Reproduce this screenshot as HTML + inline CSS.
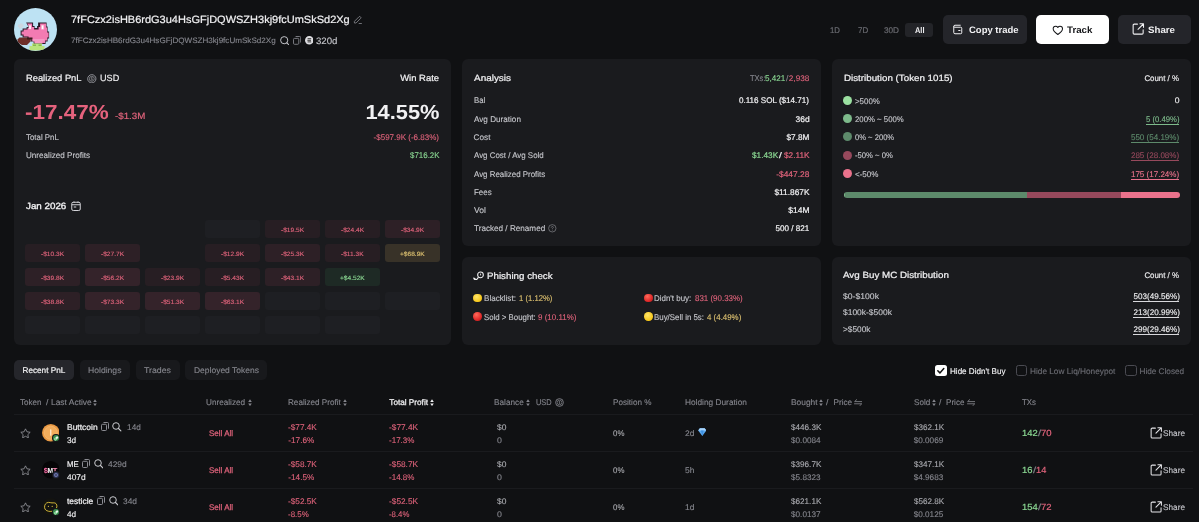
<!DOCTYPE html>
<html><head><meta charset="utf-8">
<style>
*{margin:0;padding:0;box-sizing:border-box}
html,body{width:1199px;height:522px;overflow:hidden;background:#101113;font-family:"Liberation Sans",sans-serif;color:#e9e9ec}
.a{position:absolute;white-space:nowrap;line-height:1;text-rendering:geometricPrecision}
</style></head><body><div style="position:absolute;left:0;top:0;width:1199px;height:522px;will-change:transform">
<div class="a" style="left:14.20px;top:59.20px;width:436.60px;height:286.20px;background:#1a1b1e;border-radius:6px;"></div>
<div class="a" style="left:462.20px;top:59.20px;width:358.80px;height:186.60px;background:#1a1b1e;border-radius:6px;"></div>
<div class="a" style="left:462.20px;top:256.60px;width:358.80px;height:88.80px;background:#1a1b1e;border-radius:6px;"></div>
<div class="a" style="left:832.00px;top:59.20px;width:358.50px;height:186.60px;background:#1a1b1e;border-radius:6px;"></div>
<div class="a" style="left:832.00px;top:256.60px;width:358.50px;height:88.80px;background:#1a1b1e;border-radius:6px;"></div>
<svg class="a" style="left:14px;top:8.2px" width="43" height="43" viewBox="0 0 43 43">
<defs><clipPath id="av"><circle cx="21.5" cy="21.5" r="21.5"/></clipPath></defs>
<g clip-path="url(#av)">
<rect width="43" height="43" fill="#bde2f3"/>
<path d="M4 16.500h2v-1h2.500v1h1v2.500h-1.500v1.500h-3v-1.500h-1z" fill="#cfd3dc" opacity=".85"/>
<g transform="translate(-1.4,0.6)"><path d="M13.500 14h7v3.500h1.500v2h2.500v-2h1v-3.500h8.500v4h1v5h1.500v7h-1.500v3h-2v2.500h-12v-2.500h-3v-2.500h-3v-1.500h-5v-2h-2v-5h2v-2h4v-1.500h2z" fill="#2b1826"/>
<path d="M14.500 15h5v3.500h2v2.500h4.500v-2.500h1.500v-3.500h6v4h1v5h1.500v5h-1.500v3h-2v2.500h-10.500v-2.500h-3v-2.500h-3v-1.500h-5v-2h-2v-3h2v-2h4v-1.500h2.500z" fill="#f37bb2"/>
<path d="M16 16.500h2.500v4h-2.500z M28.500 16.500h3v4.500h-3z" fill="#fbb4d5"/>
<rect x="16.800" y="17" width="1.300" height="3.500" fill="#fff"/><rect x="29.300" y="17" width="1.300" height="3.500" fill="#fff"/>
<path d="M20 30.500h12v2.500h-2v2h-8v-2h-2z" fill="#f59ac4"/></g>
<path d="M3.500 31.500l2-2h8.500l2.500 1.500v2.500l-3.500 3.500h-5l-4.500-2.500z" fill="#6e2f2a"/>
<path d="M13 29.500h5.500v2h-5.500z" fill="#3b1a1c"/>
<path d="M15.500 42.500v-4.500h2.500v-2.500h10v2.500h2.500v4.500z" fill="#b9e37c"/>
<path d="M19 36.500h3v1.500h-3z M24.500 36.500h3v1.500h-3z" fill="#86b84f"/>
</g></svg>
<div class="a" style="top:14px;font-size:10.5px;line-height:12px;color:#f1f1f3;-webkit-text-stroke:0.2px #f1f1f3;left:71.30px;transform-origin:0 50%;transform:scaleX(1.0475);">7fFCzx2isHB6rdG3u4HsGFjDQWSZH3kj9fcUmSkSd2Xg</div>
<div class="a" style="top:36px;font-size:7.8px;line-height:9px;color:#85868d;-webkit-text-stroke:0.12px #85868d;left:71.30px;transform-origin:0 50%;transform:scaleX(1.0357);">7fFCzx2isHB6rdG3u4HsGFjDQWSZH3kj9fcUmSkSd2Xg</div>
<div class="a" style="top:36px;font-size:9.2px;line-height:10px;color:#c6c7cc;-webkit-text-stroke:0.12px #c6c7cc;left:316.40px;transform-origin:0 50%;transform:scaleX(1.0505);">320d</div>
<div class="a" style="top:26px;font-size:8.2px;line-height:9px;color:#696a70;-webkit-text-stroke:0.2px #696a70;left:829.80px;transform-origin:0 50%;transform:scaleX(0.9540);">1D</div>
<div class="a" style="top:26px;font-size:8.2px;line-height:9px;color:#696a70;-webkit-text-stroke:0.2px #696a70;left:858.30px;transform-origin:0 50%;transform:scaleX(0.9731);">7D</div>
<div class="a" style="top:26px;font-size:8.2px;line-height:9px;color:#696a70;-webkit-text-stroke:0.2px #696a70;left:884.00px;transform-origin:0 50%;">30D</div>
<div class="a" style="left:905.20px;top:22.80px;width:27.70px;height:13.90px;background:#232428;border-radius:3px;"></div>
<div class="a" style="top:25px;font-size:8.3px;line-height:10px;color:#f1f1f3;font-weight:700;left:915.00px;transform-origin:0 50%;transform:scaleX(0.8957);">All</div>
<div class="a" style="left:943.30px;top:15.30px;width:83.70px;height:28.40px;background:#24252a;border-radius:5px;"></div>
<div class="a" style="top:24px;font-size:9.4px;line-height:11px;color:#f1f1f3;font-weight:700;left:969.00px;transform-origin:0 50%;transform:scaleX(1.0123);">Copy trade</div>
<div class="a" style="left:1036.00px;top:15.30px;width:73.00px;height:28.40px;background:#ffffff;border-radius:5px;"></div>
<div class="a" style="top:24px;font-size:9.4px;line-height:11px;color:#141518;font-weight:700;left:1067.00px;transform-origin:0 50%;transform:scaleX(1.0381);">Track</div>
<div class="a" style="left:1118.00px;top:15.30px;width:72.70px;height:28.40px;background:#24252a;border-radius:5px;"></div>
<div class="a" style="top:24px;font-size:9.4px;line-height:11px;color:#f1f1f3;font-weight:700;left:1148.00px;transform-origin:0 50%;transform:scaleX(1.0335);">Share</div>
<div class="a" style="top:73px;font-size:9.0px;line-height:10px;color:#f1f1f3;-webkit-text-stroke:0.22px #f1f1f3;left:25.60px;transform-origin:0 50%;transform:scaleX(1.0367);">Realized PnL</div>
<div class="a" style="top:73px;font-size:9.0px;line-height:10px;color:#f1f1f3;-webkit-text-stroke:0.15px #f1f1f3;left:99.50px;transform-origin:0 50%;transform:scaleX(1.0104);">USD</div>
<div class="a" style="top:73px;font-size:9.0px;line-height:10px;color:#f1f1f3;-webkit-text-stroke:0.22px #f1f1f3;right:759.90px;transform-origin:100% 50%;transform:scaleX(1.0483);">Win Rate</div>
<div class="a" style="top:101px;font-size:20.5px;line-height:23px;color:#e5627d;font-weight:700;left:25.00px;transform-origin:0 50%;transform:scaleX(1.0962);">-17.47%</div>
<div class="a" style="top:111px;font-size:9.0px;line-height:10px;color:#df637b;-webkit-text-stroke:0.2px #df637b;left:115.20px;transform-origin:0 50%;transform:scaleX(1.0817);">-$1.3M</div>
<div class="a" style="top:101px;font-size:20.5px;line-height:23px;color:#f1f1f3;font-weight:700;right:759.90px;transform-origin:100% 50%;transform:scaleX(1.0658);">14.55%</div>
<div class="a" style="top:133px;font-size:8.2px;line-height:9px;color:#c6c7cc;-webkit-text-stroke:0.12px #c6c7cc;left:25.60px;transform-origin:0 50%;transform:scaleX(0.9623);">Total PnL</div>
<div class="a" style="top:151px;font-size:8.2px;line-height:9px;color:#c6c7cc;-webkit-text-stroke:0.12px #c6c7cc;left:25.60px;transform-origin:0 50%;transform:scaleX(0.9905);">Unrealized Profits</div>
<div class="a" style="top:133px;font-size:8.2px;line-height:9px;color:#df637b;-webkit-text-stroke:0.12px #df637b;right:759.90px;transform-origin:100% 50%;transform:scaleX(0.9761);">-$597.9K (-6.83%)</div>
<div class="a" style="top:151px;font-size:8.2px;line-height:9px;color:#8ad792;-webkit-text-stroke:0.12px #8ad792;right:759.90px;transform-origin:100% 50%;transform:scaleX(0.9656);">$716.2K</div>
<div class="a" style="top:201px;font-size:9.0px;line-height:10px;color:#f1f1f3;-webkit-text-stroke:0.32px #f1f1f3;left:25.70px;transform-origin:0 50%;transform:scaleX(1.0882);">Jan 2026</div>
<div class="a" style="left:205.00px;top:220.00px;width:54.50px;height:18.00px;background:#1e1f23;border-radius:3px;"></div>
<div class="a" style="left:265.00px;top:220.00px;width:54.50px;height:18.00px;background:#271e23;border-radius:3px;"></div>
<div class="a" style="top:227px;font-size:6.2px;line-height:7px;color:#df637b;-webkit-text-stroke:0.12px #df637b;left:280.69px;transform-origin:0 50%;transform:scaleX(1.0645);">-$19.5K</div>
<div class="a" style="left:325.00px;top:220.00px;width:54.50px;height:18.00px;background:#271e23;border-radius:3px;"></div>
<div class="a" style="top:227px;font-size:6.2px;line-height:7px;color:#df637b;-webkit-text-stroke:0.12px #df637b;left:340.69px;transform-origin:0 50%;transform:scaleX(1.0645);">-$24.4K</div>
<div class="a" style="left:385.00px;top:220.00px;width:54.50px;height:18.00px;background:#2d2026;border-radius:3px;"></div>
<div class="a" style="top:227px;font-size:6.2px;line-height:7px;color:#df637b;-webkit-text-stroke:0.12px #df637b;left:400.69px;transform-origin:0 50%;transform:scaleX(1.0645);">-$34.9K</div>
<div class="a" style="left:25.00px;top:244.00px;width:54.50px;height:18.00px;background:#271e23;border-radius:3px;"></div>
<div class="a" style="top:251px;font-size:6.2px;line-height:7px;color:#df637b;-webkit-text-stroke:0.12px #df637b;left:40.69px;transform-origin:0 50%;transform:scaleX(1.0645);">-$10.3K</div>
<div class="a" style="left:85.00px;top:244.00px;width:54.50px;height:18.00px;background:#2d2026;border-radius:3px;"></div>
<div class="a" style="top:251px;font-size:6.2px;line-height:7px;color:#df637b;-webkit-text-stroke:0.12px #df637b;left:100.69px;transform-origin:0 50%;transform:scaleX(1.0645);">-$27.7K</div>
<div class="a" style="left:205.00px;top:244.00px;width:54.50px;height:18.00px;background:#271e23;border-radius:3px;"></div>
<div class="a" style="top:251px;font-size:6.2px;line-height:7px;color:#df637b;-webkit-text-stroke:0.12px #df637b;left:220.69px;transform-origin:0 50%;transform:scaleX(1.0645);">-$12.9K</div>
<div class="a" style="left:265.00px;top:244.00px;width:54.50px;height:18.00px;background:#2d2026;border-radius:3px;"></div>
<div class="a" style="top:251px;font-size:6.2px;line-height:7px;color:#df637b;-webkit-text-stroke:0.12px #df637b;left:280.69px;transform-origin:0 50%;transform:scaleX(1.0645);">-$25.3K</div>
<div class="a" style="left:325.00px;top:244.00px;width:54.50px;height:18.00px;background:#271e23;border-radius:3px;"></div>
<div class="a" style="top:251px;font-size:6.2px;line-height:7px;color:#df637b;-webkit-text-stroke:0.12px #df637b;left:340.94px;transform-origin:0 50%;transform:scaleX(1.0645);">-$11.3K</div>
<div class="a" style="left:385.00px;top:244.00px;width:54.50px;height:18.00px;background:#383228;border-radius:3px;"></div>
<div class="a" style="top:251px;font-size:6.2px;line-height:7px;color:#dcc070;-webkit-text-stroke:0.12px #dcc070;left:399.86px;transform-origin:0 50%;transform:scaleX(1.0645);">+$68.9K</div>
<div class="a" style="left:25.00px;top:268.00px;width:54.50px;height:18.00px;background:#2d2026;border-radius:3px;"></div>
<div class="a" style="top:275px;font-size:6.2px;line-height:7px;color:#df637b;-webkit-text-stroke:0.12px #df637b;left:40.69px;transform-origin:0 50%;transform:scaleX(1.0645);">-$39.8K</div>
<div class="a" style="left:85.00px;top:268.00px;width:54.50px;height:18.00px;background:#34232a;border-radius:3px;"></div>
<div class="a" style="top:275px;font-size:6.2px;line-height:7px;color:#df637b;-webkit-text-stroke:0.12px #df637b;left:100.69px;transform-origin:0 50%;transform:scaleX(1.0645);">-$56.2K</div>
<div class="a" style="left:145.00px;top:268.00px;width:54.50px;height:18.00px;background:#271e23;border-radius:3px;"></div>
<div class="a" style="top:275px;font-size:6.2px;line-height:7px;color:#df637b;-webkit-text-stroke:0.12px #df637b;left:160.69px;transform-origin:0 50%;transform:scaleX(1.0645);">-$23.9K</div>
<div class="a" style="left:205.00px;top:268.00px;width:54.50px;height:18.00px;background:#271e23;border-radius:3px;"></div>
<div class="a" style="top:275px;font-size:6.2px;line-height:7px;color:#df637b;-webkit-text-stroke:0.12px #df637b;left:220.69px;transform-origin:0 50%;transform:scaleX(1.0645);">-$5.43K</div>
<div class="a" style="left:265.00px;top:268.00px;width:54.50px;height:18.00px;background:#2d2026;border-radius:3px;"></div>
<div class="a" style="top:275px;font-size:6.2px;line-height:7px;color:#df637b;-webkit-text-stroke:0.12px #df637b;left:280.69px;transform-origin:0 50%;transform:scaleX(1.0645);">-$43.1K</div>
<div class="a" style="left:325.00px;top:268.00px;width:54.50px;height:18.00px;background:#1e2a25;border-radius:3px;"></div>
<div class="a" style="top:275px;font-size:6.2px;line-height:7px;color:#8ad792;-webkit-text-stroke:0.12px #8ad792;left:339.86px;transform-origin:0 50%;transform:scaleX(1.0645);">+$4.52K</div>
<div class="a" style="left:25.00px;top:292.00px;width:54.50px;height:18.00px;background:#2d2026;border-radius:3px;"></div>
<div class="a" style="top:299px;font-size:6.2px;line-height:7px;color:#df637b;-webkit-text-stroke:0.12px #df637b;left:40.69px;transform-origin:0 50%;transform:scaleX(1.0645);">-$38.8K</div>
<div class="a" style="left:85.00px;top:292.00px;width:54.50px;height:18.00px;background:#34232a;border-radius:3px;"></div>
<div class="a" style="top:299px;font-size:6.2px;line-height:7px;color:#df637b;-webkit-text-stroke:0.12px #df637b;left:100.69px;transform-origin:0 50%;transform:scaleX(1.0645);">-$73.3K</div>
<div class="a" style="left:145.00px;top:292.00px;width:54.50px;height:18.00px;background:#34232a;border-radius:3px;"></div>
<div class="a" style="top:299px;font-size:6.2px;line-height:7px;color:#df637b;-webkit-text-stroke:0.12px #df637b;left:160.69px;transform-origin:0 50%;transform:scaleX(1.0645);">-$51.3K</div>
<div class="a" style="left:205.00px;top:292.00px;width:54.50px;height:18.00px;background:#34232a;border-radius:3px;"></div>
<div class="a" style="top:299px;font-size:6.2px;line-height:7px;color:#df637b;-webkit-text-stroke:0.12px #df637b;left:220.69px;transform-origin:0 50%;transform:scaleX(1.0645);">-$63.1K</div>
<div class="a" style="left:265.00px;top:292.00px;width:54.50px;height:18.00px;background:#1e1f23;border-radius:3px;"></div>
<div class="a" style="left:325.00px;top:292.00px;width:54.50px;height:18.00px;background:#1e1f23;border-radius:3px;"></div>
<div class="a" style="left:385.00px;top:292.00px;width:54.50px;height:18.00px;background:#1e1f23;border-radius:3px;"></div>
<div class="a" style="left:25.00px;top:316.00px;width:54.50px;height:18.00px;background:#1e1f23;border-radius:3px;"></div>
<div class="a" style="left:85.00px;top:316.00px;width:54.50px;height:18.00px;background:#1e1f23;border-radius:3px;"></div>
<div class="a" style="left:145.00px;top:316.00px;width:54.50px;height:18.00px;background:#1e1f23;border-radius:3px;"></div>
<div class="a" style="left:205.00px;top:316.00px;width:54.50px;height:18.00px;background:#1e1f23;border-radius:3px;"></div>
<div class="a" style="left:265.00px;top:316.00px;width:54.50px;height:18.00px;background:#1e1f23;border-radius:3px;"></div>
<div class="a" style="left:325.00px;top:316.00px;width:54.50px;height:18.00px;background:#1e1f23;border-radius:3px;"></div>
<div class="a" style="top:73px;font-size:9.0px;line-height:10px;color:#f1f1f3;-webkit-text-stroke:0.22px #f1f1f3;left:473.60px;transform-origin:0 50%;transform:scaleX(1.1041);">Analysis</div>
<div class="a" style="top:96px;font-size:8.2px;line-height:9px;color:#c6c7cc;-webkit-text-stroke:0.12px #c6c7cc;left:473.60px;transform-origin:0 50%;transform:scaleX(0.9535);">Bal</div>
<div class="a" style="top:115px;font-size:8.2px;line-height:9px;color:#c6c7cc;-webkit-text-stroke:0.12px #c6c7cc;left:473.60px;transform-origin:0 50%;transform:scaleX(0.9946);">Avg Duration</div>
<div class="a" style="top:133px;font-size:8.2px;line-height:9px;color:#c6c7cc;-webkit-text-stroke:0.12px #c6c7cc;left:473.60px;transform-origin:0 50%;">Cost</div>
<div class="a" style="top:151px;font-size:8.2px;line-height:9px;color:#c6c7cc;-webkit-text-stroke:0.12px #c6c7cc;left:473.60px;transform-origin:0 50%;transform:scaleX(0.9671);">Avg Cost / Avg Sold</div>
<div class="a" style="top:170px;font-size:8.2px;line-height:9px;color:#c6c7cc;-webkit-text-stroke:0.12px #c6c7cc;left:473.60px;transform-origin:0 50%;transform:scaleX(0.9676);">Avg Realized Profits</div>
<div class="a" style="top:188px;font-size:8.2px;line-height:9px;color:#c6c7cc;-webkit-text-stroke:0.12px #c6c7cc;left:473.60px;transform-origin:0 50%;transform:scaleX(0.9709);">Fees</div>
<div class="a" style="top:206px;font-size:8.2px;line-height:9px;color:#c6c7cc;-webkit-text-stroke:0.12px #c6c7cc;left:473.60px;transform-origin:0 50%;transform:scaleX(1.0352);">Vol</div>
<div class="a" style="top:224px;font-size:8.2px;line-height:9px;color:#c6c7cc;-webkit-text-stroke:0.12px #c6c7cc;left:473.60px;transform-origin:0 50%;transform:scaleX(0.9943);">Tracked / Renamed</div>
<div class="a" style="top:74px;font-size:8.2px;line-height:9px;color:#85868d;-webkit-text-stroke:0.12px #85868d;left:749.70px;transform-origin:0 50%;transform:scaleX(0.9195);">TXs:</div>
<div class="a" style="top:74px;font-size:8.2px;line-height:9px;color:#8ad792;-webkit-text-stroke:0.12px #8ad792;left:765.40px;transform-origin:0 50%;transform:scaleX(0.9893);">5,421</div>
<div class="a" style="top:74px;font-size:8.2px;line-height:9px;color:#85868d;-webkit-text-stroke:0.12px #85868d;left:786.20px;transform-origin:0 50%;transform:scaleX(1.0535);">/</div>
<div class="a" style="top:74px;font-size:8.2px;line-height:9px;color:#df637b;-webkit-text-stroke:0.12px #df637b;left:788.80px;transform-origin:0 50%;">2,938</div>
<div class="a" style="top:96px;font-size:8.2px;line-height:9px;color:#f1f1f3;-webkit-text-stroke:0.2px #f1f1f3;right:389.70px;transform-origin:100% 50%;transform:scaleX(0.9872);">0.116 SOL ($14.71)</div>
<div class="a" style="top:115px;font-size:8.2px;line-height:9px;color:#f1f1f3;-webkit-text-stroke:0.2px #f1f1f3;right:389.70px;transform-origin:100% 50%;transform:scaleX(1.0306);">36d</div>
<div class="a" style="top:133px;font-size:8.2px;line-height:9px;color:#f1f1f3;-webkit-text-stroke:0.2px #f1f1f3;right:389.70px;transform-origin:100% 50%;">$7.8M</div>
<div class="a" style="top:151px;font-size:8.2px;line-height:9px;color:#8ad792;-webkit-text-stroke:0.2px #8ad792;left:751.70px;transform-origin:0 50%;transform:scaleX(1.0081);">$1.43K</div>
<div class="a" style="top:151px;font-size:8.2px;line-height:9px;color:#f1f1f3;-webkit-text-stroke:0.2px #f1f1f3;left:779.40px;transform-origin:0 50%;transform:scaleX(1.2290);">/</div>
<div class="a" style="top:151px;font-size:8.2px;line-height:9px;color:#df637b;-webkit-text-stroke:0.2px #df637b;left:783.70px;transform-origin:0 50%;transform:scaleX(1.0086);">$2.11K</div>
<div class="a" style="top:170px;font-size:8.2px;line-height:9px;color:#df637b;-webkit-text-stroke:0.2px #df637b;right:389.70px;transform-origin:100% 50%;transform:scaleX(1.0225);">-$447.28</div>
<div class="a" style="top:188px;font-size:8.2px;line-height:9px;color:#f1f1f3;-webkit-text-stroke:0.2px #f1f1f3;right:389.70px;transform-origin:100% 50%;transform:scaleX(1.0144);">$11.867K</div>
<div class="a" style="top:206px;font-size:8.2px;line-height:9px;color:#f1f1f3;-webkit-text-stroke:0.2px #f1f1f3;right:389.70px;transform-origin:100% 50%;transform:scaleX(1.0335);">$14M</div>
<div class="a" style="top:224px;font-size:8.2px;line-height:9px;color:#f1f1f3;-webkit-text-stroke:0.2px #f1f1f3;right:389.70px;transform-origin:100% 50%;transform:scaleX(0.9855);">500 / 821</div>
<div class="a" style="top:271px;font-size:9.2px;line-height:10px;color:#f1f1f3;-webkit-text-stroke:0.22px #f1f1f3;left:486.50px;transform-origin:0 50%;transform:scaleX(1.0617);">Phishing check</div>
<div class="a" style="top:293px;font-size:8.3px;line-height:10px;color:#c6c7cc;-webkit-text-stroke:0.12px #c6c7cc;left:483.80px;transform-origin:0 50%;transform:scaleX(0.9742);">Blacklist:</div>
<div class="a" style="top:293px;font-size:8.3px;line-height:10px;color:#dcc070;-webkit-text-stroke:0.12px #dcc070;left:519.00px;transform-origin:0 50%;transform:scaleX(0.9282);">1 (1.12%)</div>
<div class="a" style="top:312px;font-size:8.3px;line-height:10px;color:#c6c7cc;-webkit-text-stroke:0.12px #c6c7cc;left:483.80px;transform-origin:0 50%;transform:scaleX(0.9436);">Sold &gt; Bought:</div>
<div class="a" style="top:312px;font-size:8.3px;line-height:10px;color:#df637b;-webkit-text-stroke:0.12px #df637b;left:538.10px;transform-origin:0 50%;transform:scaleX(0.9629);">9 (10.11%)</div>
<div class="a" style="top:293px;font-size:8.3px;line-height:10px;color:#c6c7cc;-webkit-text-stroke:0.12px #c6c7cc;left:654.00px;transform-origin:0 50%;transform:scaleX(0.9575);">Didn't buy:</div>
<div class="a" style="top:293px;font-size:8.3px;line-height:10px;color:#df637b;-webkit-text-stroke:0.12px #df637b;left:695.00px;transform-origin:0 50%;transform:scaleX(0.9572);">831 (90.33%)</div>
<div class="a" style="top:312px;font-size:8.3px;line-height:10px;color:#c6c7cc;-webkit-text-stroke:0.12px #c6c7cc;left:654.00px;transform-origin:0 50%;transform:scaleX(0.9507);">Buy/Sell in 5s:</div>
<div class="a" style="top:312px;font-size:8.3px;line-height:10px;color:#dcc070;-webkit-text-stroke:0.12px #dcc070;left:706.70px;transform-origin:0 50%;transform:scaleX(0.9532);">4 (4.49%)</div>
<div class="a" style="left:473.3px;top:294.0px;width:8.4px;height:8.4px;border-radius:50%;background:radial-gradient(circle at 40% 35%,#ffe56a,#f5c518 70%,#d9a400)"></div>
<div class="a" style="left:473.3px;top:312.2px;width:8.4px;height:8.4px;border-radius:50%;background:radial-gradient(circle at 38% 30%,#ff6a5a,#e02a2a 60%,#a81414)"></div>
<div class="a" style="left:644.3px;top:294.0px;width:8.4px;height:8.4px;border-radius:50%;background:radial-gradient(circle at 38% 30%,#ff6a5a,#e02a2a 60%,#a81414)"></div>
<div class="a" style="left:644.3px;top:312.2px;width:8.4px;height:8.4px;border-radius:50%;background:radial-gradient(circle at 40% 35%,#ffe56a,#f5c518 70%,#d9a400)"></div>
<div class="a" style="top:73px;font-size:9.0px;line-height:10px;color:#f1f1f3;-webkit-text-stroke:0.22px #f1f1f3;left:843.50px;transform-origin:0 50%;transform:scaleX(1.0854);">Distribution (Token 1015)</div>
<div class="a" style="top:74px;font-size:8.2px;line-height:9px;color:#f1f1f3;-webkit-text-stroke:0.15px #f1f1f3;right:19.60px;transform-origin:100% 50%;transform:scaleX(0.9609);">Count / %</div>
<div class="a" style="left:842.8px;top:95.80px;width:9px;height:9px;border-radius:50%;background:#9be0a1"></div>
<div class="a" style="top:97px;font-size:8.2px;line-height:9px;color:#c6c7cc;-webkit-text-stroke:0.12px #c6c7cc;left:855.00px;transform-origin:0 50%;transform:scaleX(0.9666);">&gt;500%</div>
<div class="a" style="top:96px;font-size:8.2px;line-height:9px;color:#f1f1f3;-webkit-text-stroke:0.12px #f1f1f3;right:19.60px;transform-origin:100% 50%;transform:scaleX(1.0525);">0</div>
<div class="a" style="left:842.8px;top:114.10px;width:9px;height:9px;border-radius:50%;background:#7dba8b"></div>
<div class="a" style="top:115px;font-size:8.2px;line-height:9px;color:#c6c7cc;-webkit-text-stroke:0.12px #c6c7cc;left:855.00px;transform-origin:0 50%;transform:scaleX(0.9515);">200% ~ 500%</div>
<div class="a" style="top:115px;font-size:8.2px;line-height:9px;color:#7dba8b;-webkit-text-stroke:0.12px #7dba8b;right:19.60px;transform-origin:100% 50%;transform:scaleX(0.9423);">5 (0.49%)</div>
<div class="a" style="left:1145.90px;top:123.60px;width:33.50px;height:0.80px;background:#7dba8b;border-radius:0px;"></div>
<div class="a" style="left:842.8px;top:132.40px;width:9px;height:9px;border-radius:50%;background:#5d8a6b"></div>
<div class="a" style="top:133px;font-size:8.2px;line-height:9px;color:#c6c7cc;-webkit-text-stroke:0.12px #c6c7cc;left:855.00px;transform-origin:0 50%;transform:scaleX(0.9296);">0% ~ 200%</div>
<div class="a" style="top:133px;font-size:8.2px;line-height:9px;color:#5d8a6b;-webkit-text-stroke:0.12px #5d8a6b;right:19.60px;transform-origin:100% 50%;transform:scaleX(0.9811);">550 (54.19%)</div>
<div class="a" style="left:1131.10px;top:141.90px;width:48.30px;height:0.80px;background:#5d8a6b;border-radius:0px;"></div>
<div class="a" style="left:842.8px;top:150.70px;width:9px;height:9px;border-radius:50%;background:#96495c"></div>
<div class="a" style="top:151px;font-size:8.2px;line-height:9px;color:#c6c7cc;-webkit-text-stroke:0.12px #c6c7cc;left:855.00px;transform-origin:0 50%;transform:scaleX(0.9395);">-50% ~ 0%</div>
<div class="a" style="top:151px;font-size:8.2px;line-height:9px;color:#96495c;-webkit-text-stroke:0.12px #96495c;right:19.60px;transform-origin:100% 50%;transform:scaleX(0.9811);">285 (28.08%)</div>
<div class="a" style="left:1131.10px;top:160.20px;width:48.30px;height:0.80px;background:#96495c;border-radius:0px;"></div>
<div class="a" style="left:842.8px;top:169.00px;width:9px;height:9px;border-radius:50%;background:#ea728c"></div>
<div class="a" style="top:170px;font-size:8.2px;line-height:9px;color:#c6c7cc;-webkit-text-stroke:0.12px #c6c7cc;left:855.00px;transform-origin:0 50%;transform:scaleX(0.9820);">&lt;-50%</div>
<div class="a" style="top:170px;font-size:8.2px;line-height:9px;color:#ea728c;-webkit-text-stroke:0.12px #ea728c;right:19.60px;transform-origin:100% 50%;transform:scaleX(0.9811);">175 (17.24%)</div>
<div class="a" style="left:1131.10px;top:178.50px;width:48.30px;height:0.80px;background:#ea728c;border-radius:0px;"></div>
<div class="a" style="left:843.5px;top:192px;width:336px;height:5.9px;border-radius:3px;overflow:hidden;display:flex"><div style="width:1.6px;background:#7dba8b"></div><div style="width:182.1px;background:#5d8a6b"></div><div style="width:94.3px;background:#96495c"></div><div style="flex:1;background:#ea728c"></div></div>
<div class="a" style="top:270px;font-size:9.0px;line-height:10px;color:#f1f1f3;-webkit-text-stroke:0.22px #f1f1f3;left:843.10px;transform-origin:0 50%;transform:scaleX(1.0876);">Avg Buy MC Distribution</div>
<div class="a" style="top:271px;font-size:8.2px;line-height:9px;color:#f1f1f3;-webkit-text-stroke:0.15px #f1f1f3;right:19.60px;transform-origin:100% 50%;transform:scaleX(0.9609);">Count / %</div>
<div class="a" style="top:292px;font-size:8.2px;line-height:9px;color:#c6c7cc;-webkit-text-stroke:0.12px #c6c7cc;left:843.10px;transform-origin:0 50%;transform:scaleX(1.0528);">$0-$100k</div>
<div class="a" style="top:292px;font-size:8.2px;line-height:9px;color:#f1f1f3;-webkit-text-stroke:0.12px #f1f1f3;right:19.60px;transform-origin:100% 50%;transform:scaleX(0.9903);">503(49.56%)</div>
<div class="a" style="left:1132.90px;top:300.60px;width:46.50px;height:0.80px;background:#d8d8dc;border-radius:0px;"></div>
<div class="a" style="top:308px;font-size:8.2px;line-height:9px;color:#c6c7cc;-webkit-text-stroke:0.12px #c6c7cc;left:843.10px;transform-origin:0 50%;transform:scaleX(1.0334);">$100k-$500k</div>
<div class="a" style="top:308px;font-size:8.2px;line-height:9px;color:#f1f1f3;-webkit-text-stroke:0.12px #f1f1f3;right:19.60px;transform-origin:100% 50%;transform:scaleX(0.9903);">213(20.99%)</div>
<div class="a" style="left:1132.90px;top:317.30px;width:46.50px;height:0.80px;background:#d8d8dc;border-radius:0px;"></div>
<div class="a" style="top:325px;font-size:8.2px;line-height:9px;color:#c6c7cc;-webkit-text-stroke:0.12px #c6c7cc;left:843.10px;transform-origin:0 50%;transform:scaleX(1.0136);">&gt;$500k</div>
<div class="a" style="top:325px;font-size:8.2px;line-height:9px;color:#f1f1f3;-webkit-text-stroke:0.12px #f1f1f3;right:19.60px;transform-origin:100% 50%;transform:scaleX(0.9903);">299(29.46%)</div>
<div class="a" style="left:1132.90px;top:333.90px;width:46.50px;height:0.80px;background:#d8d8dc;border-radius:0px;"></div>
<div class="a" style="left:14.00px;top:360.00px;width:60.00px;height:20.00px;background:#25262b;border-radius:5px;"></div>
<div class="a" style="top:366px;font-size:8.2px;line-height:9px;color:#f1f1f3;-webkit-text-stroke:0.2px #f1f1f3;left:22.50px;transform-origin:0 50%;">Recent PnL</div>
<div class="a" style="left:80.00px;top:360.00px;width:50.00px;height:20.00px;background:#18191c;border-radius:5px;"></div>
<div class="a" style="top:366px;font-size:8.2px;line-height:9px;color:#85868d;-webkit-text-stroke:0.12px #85868d;left:88.00px;transform-origin:0 50%;transform:scaleX(1.0499);">Holdings</div>
<div class="a" style="left:136.00px;top:360.00px;width:43.50px;height:20.00px;background:#18191c;border-radius:5px;"></div>
<div class="a" style="top:366px;font-size:8.2px;line-height:9px;color:#85868d;-webkit-text-stroke:0.12px #85868d;left:144.00px;transform-origin:0 50%;transform:scaleX(1.0707);">Trades</div>
<div class="a" style="left:185.00px;top:360.00px;width:82.00px;height:20.00px;background:#18191c;border-radius:5px;"></div>
<div class="a" style="top:366px;font-size:8.2px;line-height:9px;color:#85868d;-webkit-text-stroke:0.12px #85868d;left:193.50px;transform-origin:0 50%;transform:scaleX(1.0357);">Deployed Tokens</div>
<div class="a" style="left:935.00px;top:365.00px;width:11.50px;height:11.30px;background:#ffffff;border-radius:2.5px;"></div>
<svg class="a" style="left:935px;top:365px" width="11.5" height="11.3" viewBox="0 0 11.5 11.3"><path d="M2.8 5.8l2.1 2.1 3.9-4.3" fill="none" stroke="#111" stroke-width="1.5" stroke-linecap="round" stroke-linejoin="round"/></svg>
<div class="a" style="top:367px;font-size:8.2px;line-height:9px;color:#f1f1f3;-webkit-text-stroke:0.15px #f1f1f3;left:949.50px;transform-origin:0 50%;transform:scaleX(0.9865);">Hide Didn't Buy</div>
<div class="a" style="left:1015.50px;top:365.00px;width:11.00px;height:11.30px;background:transparent;border-radius:2.5px;border:1px solid #4a4b52;"></div>
<div class="a" style="top:367px;font-size:8.2px;line-height:9px;color:#6c6d74;-webkit-text-stroke:0.12px #6c6d74;left:1029.50px;transform-origin:0 50%;transform:scaleX(1.0084);">Hide Low Liq/Honeypot</div>
<div class="a" style="left:1125.00px;top:365.00px;width:11.50px;height:11.30px;background:transparent;border-radius:2.5px;border:1px solid #4a4b52;"></div>
<div class="a" style="top:367px;font-size:8.2px;line-height:9px;color:#6c6d74;-webkit-text-stroke:0.12px #6c6d74;left:1139.50px;transform-origin:0 50%;">Hide Closed</div>
<div class="a" style="top:398px;font-size:8.2px;line-height:9px;color:#85868d;-webkit-text-stroke:0.12px #85868d;left:20.10px;transform-origin:0 50%;transform:scaleX(0.9780);">Token</div>
<div class="a" style="top:398px;font-size:8.2px;line-height:9px;color:#85868d;-webkit-text-stroke:0.12px #85868d;left:45.80px;transform-origin:0 50%;transform:scaleX(1.0535);">/</div>
<div class="a" style="top:398px;font-size:8.2px;line-height:9px;color:#85868d;-webkit-text-stroke:0.12px #85868d;left:50.60px;transform-origin:0 50%;transform:scaleX(1.0289);">Last Active</div>
<div class="a" style="top:398px;font-size:8.2px;line-height:9px;color:#85868d;-webkit-text-stroke:0.12px #85868d;left:206.00px;transform-origin:0 50%;">Unrealized</div>
<div class="a" style="top:398px;font-size:8.2px;line-height:9px;color:#85868d;-webkit-text-stroke:0.12px #85868d;left:288.30px;transform-origin:0 50%;transform:scaleX(0.9920);">Realized Profit</div>
<div class="a" style="top:398px;font-size:8.2px;line-height:9px;color:#f1f1f3;-webkit-text-stroke:0.25px #f1f1f3;left:389.30px;transform-origin:0 50%;">Total Profit</div>
<div class="a" style="top:398px;font-size:8.2px;line-height:9px;color:#85868d;-webkit-text-stroke:0.12px #85868d;left:494.30px;transform-origin:0 50%;transform:scaleX(1.0056);">Balance</div>
<div class="a" style="top:398px;font-size:8.2px;line-height:9px;color:#85868d;-webkit-text-stroke:0.12px #85868d;left:536.30px;transform-origin:0 50%;transform:scaleX(0.9068);">USD</div>
<div class="a" style="top:398px;font-size:8.2px;line-height:9px;color:#85868d;-webkit-text-stroke:0.12px #85868d;left:613.40px;transform-origin:0 50%;transform:scaleX(0.9938);">Position %</div>
<div class="a" style="top:398px;font-size:8.2px;line-height:9px;color:#85868d;-webkit-text-stroke:0.12px #85868d;left:684.70px;transform-origin:0 50%;transform:scaleX(1.0151);">Holding Duration</div>
<div class="a" style="top:398px;font-size:8.2px;line-height:9px;color:#85868d;-webkit-text-stroke:0.12px #85868d;left:791.00px;transform-origin:0 50%;transform:scaleX(1.0235);">Bought</div>
<div class="a" style="top:398px;font-size:8.2px;line-height:9px;color:#85868d;-webkit-text-stroke:0.12px #85868d;left:826.20px;transform-origin:0 50%;transform:scaleX(1.0535);">/</div>
<div class="a" style="top:398px;font-size:8.2px;line-height:9px;color:#85868d;-webkit-text-stroke:0.12px #85868d;left:833.50px;transform-origin:0 50%;">Price</div>
<div class="a" style="top:398px;font-size:8.2px;line-height:9px;color:#85868d;-webkit-text-stroke:0.12px #85868d;left:913.70px;transform-origin:0 50%;transform:scaleX(0.9871);">Sold</div>
<div class="a" style="top:398px;font-size:8.2px;line-height:9px;color:#85868d;-webkit-text-stroke:0.12px #85868d;left:938.50px;transform-origin:0 50%;transform:scaleX(1.0535);">/</div>
<div class="a" style="top:398px;font-size:8.2px;line-height:9px;color:#85868d;-webkit-text-stroke:0.12px #85868d;left:945.80px;transform-origin:0 50%;transform:scaleX(0.9902);">Price</div>
<div class="a" style="top:398px;font-size:8.2px;line-height:9px;color:#85868d;-webkit-text-stroke:0.12px #85868d;left:1021.70px;transform-origin:0 50%;transform:scaleX(0.9535);">TXs</div>
<svg class="a" style="left:93.2px;top:398.70px" width="4" height="7.4" viewBox="0 0 4 7.4"><path d="M2 0.3L3.8 3H0.2z" fill="#85868d"/><path d="M2 7.1L3.8 4.4H0.2z" fill="#85868d"/></svg>
<svg class="a" style="left:247.5px;top:398.70px" width="4" height="7.4" viewBox="0 0 4 7.4"><path d="M2 0.3L3.8 3H0.2z" fill="#85868d"/><path d="M2 7.1L3.8 4.4H0.2z" fill="#85868d"/></svg>
<svg class="a" style="left:343px;top:398.70px" width="4" height="7.4" viewBox="0 0 4 7.4"><path d="M2 0.3L3.8 3H0.2z" fill="#85868d"/><path d="M2 7.1L3.8 4.4H0.2z" fill="#85868d"/></svg>
<svg class="a" style="left:526.3px;top:398.70px" width="4" height="7.4" viewBox="0 0 4 7.4"><path d="M2 0.3L3.8 3H0.2z" fill="#85868d"/><path d="M2 7.1L3.8 4.4H0.2z" fill="#85868d"/></svg>
<svg class="a" style="left:819.2px;top:398.70px" width="4" height="7.4" viewBox="0 0 4 7.4"><path d="M2 0.3L3.8 3H0.2z" fill="#85868d"/><path d="M2 7.1L3.8 4.4H0.2z" fill="#85868d"/></svg>
<svg class="a" style="left:931.7px;top:398.70px" width="4" height="7.4" viewBox="0 0 4 7.4"><path d="M2 0.3L3.8 3H0.2z" fill="#85868d"/><path d="M2 7.1L3.8 4.4H0.2z" fill="#85868d"/></svg>
<svg class="a" style="left:429.8px;top:398.70px" width="4" height="7.4" viewBox="0 0 4 7.4"><path d="M2 0.3L3.8 3H0.2z" fill="#f1f1f3"/><path d="M2 7.1L3.8 4.4H0.2z" fill="#f1f1f3"/></svg>
<div class="a" style="left:14.00px;top:413.70px;width:1178.50px;height:1.00px;background:#1a1b1e;border-radius:0px;"></div>
<div class="a" style="left:14.00px;top:450.70px;width:1178.50px;height:1.00px;background:#1a1b1e;border-radius:0px;"></div>
<div class="a" style="left:14.00px;top:487.70px;width:1178.50px;height:1.00px;background:#1a1b1e;border-radius:0px;"></div>
<svg class="a" style="left:20px;top:427.80px" width="11" height="10.6" viewBox="0 0 22 21"><path d="M11 1.6l2.9 5.9 6.5.95-4.7 4.6 1.1 6.5L11 16.5l-5.8 3.05 1.1-6.5-4.7-4.6 6.5-.95z" fill="none" stroke="#9b9ca2" stroke-width="1.6" stroke-linejoin="round"/></svg>
<div class="a" style="top:422px;font-size:8.3px;line-height:10px;color:#f1f1f3;-webkit-text-stroke:0.2px #f1f1f3;left:66.70px;transform-origin:0 50%;transform:scaleX(1.0203);">Buttcoin</div>
<svg class="a" style="left:101px;top:422.40px" width="8" height="9" viewBox="0 0 8 9"><rect x="0.5" y="2.3" width="5" height="6.2" rx="1" fill="none" stroke="#9a9ba2" stroke-width="0.9"/><path d="M2.5 0.5h4a1 1 0 0 1 1 1v5.2" fill="none" stroke="#9a9ba2" stroke-width="0.9"/></svg>
<svg class="a" style="left:112.4px;top:422.40px" width="9.5" height="9.5" viewBox="0 0 9.5 9.5"><circle cx="4" cy="4" r="3.3" fill="none" stroke="#c9cace" stroke-width="1"/><path d="M6.5 6.5l2.4 2.4" stroke="#c9cace" stroke-width="1.1" stroke-linecap="round"/></svg>
<div class="a" style="top:423px;font-size:8.2px;line-height:9px;color:#85868d;-webkit-text-stroke:0.12px #85868d;left:127.10px;transform-origin:0 50%;">14d</div>
<div class="a" style="top:435px;font-size:8.3px;line-height:10px;color:#f1f1f3;-webkit-text-stroke:0.12px #f1f1f3;left:66.70px;transform-origin:0 50%;transform:scaleX(0.9857);">3d</div>
<div class="a" style="top:429px;font-size:8.2px;line-height:9px;color:#df637b;-webkit-text-stroke:0.25px #df637b;left:208.50px;transform-origin:0 50%;transform:scaleX(0.9792);">Sell All</div>
<div class="a" style="top:423px;font-size:8.2px;line-height:9px;color:#df637b;-webkit-text-stroke:0.12px #df637b;left:288.30px;transform-origin:0 50%;transform:scaleX(1.0063);">-$77.4K</div>
<div class="a" style="top:436px;font-size:8.2px;line-height:9px;color:#df637b;-webkit-text-stroke:0.12px #df637b;left:288.30px;transform-origin:0 50%;">-17.6%</div>
<div class="a" style="top:423px;font-size:8.2px;line-height:9px;color:#df637b;-webkit-text-stroke:0.12px #df637b;left:389.30px;transform-origin:0 50%;transform:scaleX(1.0132);">-$77.4K</div>
<div class="a" style="top:436px;font-size:8.2px;line-height:9px;color:#df637b;-webkit-text-stroke:0.12px #df637b;left:389.30px;transform-origin:0 50%;transform:scaleX(0.9815);">-17.3%</div>
<div class="a" style="top:423px;font-size:8.2px;line-height:9px;color:#a9aaaf;-webkit-text-stroke:0.12px #a9aaaf;left:497.00px;transform-origin:0 50%;transform:scaleX(1.0306);">$0</div>
<div class="a" style="top:436px;font-size:8.2px;line-height:9px;color:#85868d;-webkit-text-stroke:0.12px #85868d;left:497.00px;transform-origin:0 50%;transform:scaleX(1.0744);">0</div>
<div class="a" style="top:429px;font-size:8.2px;line-height:9px;color:#a9aaaf;-webkit-text-stroke:0.12px #a9aaaf;left:613.40px;transform-origin:0 50%;transform:scaleX(0.9619);">0%</div>
<div class="a" style="top:429px;font-size:8.2px;line-height:9px;color:#85868d;-webkit-text-stroke:0.12px #85868d;left:684.70px;transform-origin:0 50%;transform:scaleX(1.0306);">2d</div>
<div class="a" style="top:423px;font-size:8.2px;line-height:9px;color:#a9aaaf;-webkit-text-stroke:0.12px #a9aaaf;left:791.00px;transform-origin:0 50%;transform:scaleX(0.9951);">$446.3K</div>
<div class="a" style="top:436px;font-size:8.2px;line-height:9px;color:#85868d;-webkit-text-stroke:0.12px #85868d;left:791.00px;transform-origin:0 50%;">$0.0084</div>
<div class="a" style="top:423px;font-size:8.2px;line-height:9px;color:#a9aaaf;-webkit-text-stroke:0.12px #a9aaaf;left:913.70px;transform-origin:0 50%;transform:scaleX(0.9918);">$362.1K</div>
<div class="a" style="top:436px;font-size:8.2px;line-height:9px;color:#85868d;-webkit-text-stroke:0.12px #85868d;left:913.70px;transform-origin:0 50%;">$0.0069</div>
<div class="a" style="top:428px;font-size:8.9px;line-height:10px;color:#8ad792;-webkit-text-stroke:0.2px #8ad792;left:1021.70px;transform-origin:0 50%;transform:scaleX(1.0573);">142</div>
<div class="a" style="top:428px;font-size:8.9px;line-height:10px;color:#85868d;-webkit-text-stroke:0.12px #85868d;left:1037.80px;transform-origin:0 50%;transform:scaleX(1.2941);">/</div>
<div class="a" style="top:428px;font-size:8.9px;line-height:10px;color:#df637b;-webkit-text-stroke:0.2px #df637b;left:1041.40px;transform-origin:0 50%;transform:scaleX(1.0708);">70</div>
<svg class="a" style="left:1148.7px;top:426.00px" width="14.2" height="14.2" viewBox="0 0 20 20"><path d="M9 3H4.5A1.5 1.5 0 0 0 3 4.500V15.500A1.500 1.500 0 0 0 4.500 17H15.500A1.500 1.500 0 0 0 17 15.500V11" fill="none" stroke="#e6e6ea" stroke-width="1.45" stroke-linecap="round"/><path d="M12.500 2.500H17.500V7.500M17.200 2.800L9.800 10.200" fill="none" stroke="#e6e6ea" stroke-width="1.45" stroke-linecap="round" stroke-linejoin="round"/></svg>
<div class="a" style="top:429px;font-size:8.2px;line-height:9px;color:#c6c7cc;-webkit-text-stroke:0.12px #c6c7cc;left:1162.90px;transform-origin:0 50%;transform:scaleX(1.0054);">Share</div>
<svg class="a" style="left:20px;top:464.80px" width="11" height="10.6" viewBox="0 0 22 21"><path d="M11 1.6l2.9 5.9 6.5.95-4.7 4.6 1.1 6.5L11 16.5l-5.8 3.05 1.1-6.5-4.7-4.6 6.5-.95z" fill="none" stroke="#9b9ca2" stroke-width="1.6" stroke-linejoin="round"/></svg>
<div class="a" style="top:459px;font-size:8.3px;line-height:10px;color:#f1f1f3;-webkit-text-stroke:0.2px #f1f1f3;left:66.70px;transform-origin:0 50%;transform:scaleX(0.9317);">ME</div>
<svg class="a" style="left:81.6px;top:459.40px" width="8" height="9" viewBox="0 0 8 9"><rect x="0.5" y="2.3" width="5" height="6.2" rx="1" fill="none" stroke="#9a9ba2" stroke-width="0.9"/><path d="M2.5 0.5h4a1 1 0 0 1 1 1v5.2" fill="none" stroke="#9a9ba2" stroke-width="0.9"/></svg>
<svg class="a" style="left:93.5px;top:459.40px" width="9.5" height="9.5" viewBox="0 0 9.5 9.5"><circle cx="4" cy="4" r="3.3" fill="none" stroke="#c9cace" stroke-width="1"/><path d="M6.5 6.5l2.4 2.4" stroke="#c9cace" stroke-width="1.1" stroke-linecap="round"/></svg>
<div class="a" style="top:460px;font-size:8.2px;line-height:9px;color:#85868d;-webkit-text-stroke:0.12px #85868d;left:108.10px;transform-origin:0 50%;transform:scaleX(1.0251);">429d</div>
<div class="a" style="top:472px;font-size:8.3px;line-height:10px;color:#f1f1f3;-webkit-text-stroke:0.12px #f1f1f3;left:66.70px;transform-origin:0 50%;transform:scaleX(1.0128);">407d</div>
<div class="a" style="top:466px;font-size:8.2px;line-height:9px;color:#df637b;-webkit-text-stroke:0.25px #df637b;left:208.50px;transform-origin:0 50%;transform:scaleX(0.9792);">Sell All</div>
<div class="a" style="top:460px;font-size:8.2px;line-height:9px;color:#df637b;-webkit-text-stroke:0.12px #df637b;left:288.30px;transform-origin:0 50%;transform:scaleX(1.0063);">-$58.7K</div>
<div class="a" style="top:473px;font-size:8.2px;line-height:9px;color:#df637b;-webkit-text-stroke:0.12px #df637b;left:288.30px;transform-origin:0 50%;">-14.5%</div>
<div class="a" style="top:460px;font-size:8.2px;line-height:9px;color:#df637b;-webkit-text-stroke:0.12px #df637b;left:389.30px;transform-origin:0 50%;transform:scaleX(1.0132);">-$58.7K</div>
<div class="a" style="top:473px;font-size:8.2px;line-height:9px;color:#df637b;-webkit-text-stroke:0.12px #df637b;left:389.30px;transform-origin:0 50%;transform:scaleX(0.9815);">-14.8%</div>
<div class="a" style="top:460px;font-size:8.2px;line-height:9px;color:#a9aaaf;-webkit-text-stroke:0.12px #a9aaaf;left:497.00px;transform-origin:0 50%;transform:scaleX(1.0306);">$0</div>
<div class="a" style="top:473px;font-size:8.2px;line-height:9px;color:#85868d;-webkit-text-stroke:0.12px #85868d;left:497.00px;transform-origin:0 50%;transform:scaleX(1.0744);">0</div>
<div class="a" style="top:466px;font-size:8.2px;line-height:9px;color:#a9aaaf;-webkit-text-stroke:0.12px #a9aaaf;left:613.40px;transform-origin:0 50%;transform:scaleX(0.9619);">0%</div>
<div class="a" style="top:466px;font-size:8.2px;line-height:9px;color:#85868d;-webkit-text-stroke:0.12px #85868d;left:684.70px;transform-origin:0 50%;transform:scaleX(1.0306);">5h</div>
<div class="a" style="top:460px;font-size:8.2px;line-height:9px;color:#a9aaaf;-webkit-text-stroke:0.12px #a9aaaf;left:791.00px;transform-origin:0 50%;transform:scaleX(0.9951);">$396.7K</div>
<div class="a" style="top:473px;font-size:8.2px;line-height:9px;color:#85868d;-webkit-text-stroke:0.12px #85868d;left:791.00px;transform-origin:0 50%;">$5.8323</div>
<div class="a" style="top:460px;font-size:8.2px;line-height:9px;color:#a9aaaf;-webkit-text-stroke:0.12px #a9aaaf;left:913.70px;transform-origin:0 50%;transform:scaleX(0.9918);">$347.1K</div>
<div class="a" style="top:473px;font-size:8.2px;line-height:9px;color:#85868d;-webkit-text-stroke:0.12px #85868d;left:913.70px;transform-origin:0 50%;">$4.9683</div>
<div class="a" style="top:465px;font-size:8.9px;line-height:10px;color:#8ad792;-webkit-text-stroke:0.2px #8ad792;left:1021.70px;transform-origin:0 50%;transform:scaleX(1.0607);">16</div>
<div class="a" style="top:465px;font-size:8.9px;line-height:10px;color:#85868d;-webkit-text-stroke:0.12px #85868d;left:1032.60px;transform-origin:0 50%;transform:scaleX(1.2941);">/</div>
<div class="a" style="top:465px;font-size:8.9px;line-height:10px;color:#df637b;-webkit-text-stroke:0.2px #df637b;left:1036.20px;transform-origin:0 50%;transform:scaleX(1.0404);">14</div>
<svg class="a" style="left:1148.7px;top:463.00px" width="14.2" height="14.2" viewBox="0 0 20 20"><path d="M9 3H4.5A1.5 1.5 0 0 0 3 4.500V15.500A1.500 1.500 0 0 0 4.500 17H15.500A1.500 1.500 0 0 0 17 15.500V11" fill="none" stroke="#e6e6ea" stroke-width="1.45" stroke-linecap="round"/><path d="M12.500 2.500H17.500V7.500M17.200 2.800L9.800 10.200" fill="none" stroke="#e6e6ea" stroke-width="1.45" stroke-linecap="round" stroke-linejoin="round"/></svg>
<div class="a" style="top:466px;font-size:8.2px;line-height:9px;color:#c6c7cc;-webkit-text-stroke:0.12px #c6c7cc;left:1162.90px;transform-origin:0 50%;transform:scaleX(1.0054);">Share</div>
<svg class="a" style="left:20px;top:501.80px" width="11" height="10.6" viewBox="0 0 22 21"><path d="M11 1.6l2.9 5.9 6.5.95-4.7 4.6 1.1 6.5L11 16.5l-5.8 3.05 1.1-6.5-4.7-4.6 6.5-.95z" fill="none" stroke="#9b9ca2" stroke-width="1.6" stroke-linejoin="round"/></svg>
<div class="a" style="top:496px;font-size:8.3px;line-height:10px;color:#f1f1f3;-webkit-text-stroke:0.2px #f1f1f3;left:66.70px;transform-origin:0 50%;transform:scaleX(1.0181);">testicle</div>
<svg class="a" style="left:96.7px;top:496.40px" width="8" height="9" viewBox="0 0 8 9"><rect x="0.5" y="2.3" width="5" height="6.2" rx="1" fill="none" stroke="#9a9ba2" stroke-width="0.9"/><path d="M2.5 0.5h4a1 1 0 0 1 1 1v5.2" fill="none" stroke="#9a9ba2" stroke-width="0.9"/></svg>
<svg class="a" style="left:108.6px;top:496.40px" width="9.5" height="9.5" viewBox="0 0 9.5 9.5"><circle cx="4" cy="4" r="3.3" fill="none" stroke="#c9cace" stroke-width="1"/><path d="M6.5 6.5l2.4 2.4" stroke="#c9cace" stroke-width="1.1" stroke-linecap="round"/></svg>
<div class="a" style="top:497px;font-size:8.2px;line-height:9px;color:#85868d;-webkit-text-stroke:0.12px #85868d;left:123.00px;transform-origin:0 50%;transform:scaleX(1.0233);">34d</div>
<div class="a" style="top:509px;font-size:8.3px;line-height:10px;color:#f1f1f3;-webkit-text-stroke:0.12px #f1f1f3;left:66.70px;transform-origin:0 50%;transform:scaleX(0.9857);">4d</div>
<div class="a" style="top:503px;font-size:8.2px;line-height:9px;color:#df637b;-webkit-text-stroke:0.25px #df637b;left:208.50px;transform-origin:0 50%;transform:scaleX(0.9792);">Sell All</div>
<div class="a" style="top:497px;font-size:8.2px;line-height:9px;color:#df637b;-webkit-text-stroke:0.12px #df637b;left:288.30px;transform-origin:0 50%;transform:scaleX(1.0063);">-$52.5K</div>
<div class="a" style="top:510px;font-size:8.2px;line-height:9px;color:#df637b;-webkit-text-stroke:0.12px #df637b;left:288.30px;transform-origin:0 50%;transform:scaleX(0.9710);">-8.5%</div>
<div class="a" style="top:497px;font-size:8.2px;line-height:9px;color:#df637b;-webkit-text-stroke:0.12px #df637b;left:389.30px;transform-origin:0 50%;transform:scaleX(1.0132);">-$52.5K</div>
<div class="a" style="top:510px;font-size:8.2px;line-height:9px;color:#df637b;-webkit-text-stroke:0.12px #df637b;left:389.30px;transform-origin:0 50%;transform:scaleX(0.9523);">-8.4%</div>
<div class="a" style="top:497px;font-size:8.2px;line-height:9px;color:#a9aaaf;-webkit-text-stroke:0.12px #a9aaaf;left:497.00px;transform-origin:0 50%;transform:scaleX(1.0306);">$0</div>
<div class="a" style="top:510px;font-size:8.2px;line-height:9px;color:#85868d;-webkit-text-stroke:0.12px #85868d;left:497.00px;transform-origin:0 50%;transform:scaleX(1.0744);">0</div>
<div class="a" style="top:503px;font-size:8.2px;line-height:9px;color:#a9aaaf;-webkit-text-stroke:0.12px #a9aaaf;left:613.40px;transform-origin:0 50%;transform:scaleX(0.9619);">0%</div>
<div class="a" style="top:503px;font-size:8.2px;line-height:9px;color:#85868d;-webkit-text-stroke:0.12px #85868d;left:684.70px;transform-origin:0 50%;transform:scaleX(1.0306);">1d</div>
<div class="a" style="top:497px;font-size:8.2px;line-height:9px;color:#a9aaaf;-webkit-text-stroke:0.12px #a9aaaf;left:791.00px;transform-origin:0 50%;transform:scaleX(0.9951);">$621.1K</div>
<div class="a" style="top:510px;font-size:8.2px;line-height:9px;color:#85868d;-webkit-text-stroke:0.12px #85868d;left:791.00px;transform-origin:0 50%;">$0.0137</div>
<div class="a" style="top:497px;font-size:8.2px;line-height:9px;color:#a9aaaf;-webkit-text-stroke:0.12px #a9aaaf;left:913.70px;transform-origin:0 50%;transform:scaleX(0.9918);">$562.8K</div>
<div class="a" style="top:510px;font-size:8.2px;line-height:9px;color:#85868d;-webkit-text-stroke:0.12px #85868d;left:913.70px;transform-origin:0 50%;">$0.0125</div>
<div class="a" style="top:502px;font-size:8.9px;line-height:10px;color:#8ad792;-webkit-text-stroke:0.2px #8ad792;left:1021.70px;transform-origin:0 50%;transform:scaleX(1.0573);">154</div>
<div class="a" style="top:502px;font-size:8.9px;line-height:10px;color:#85868d;-webkit-text-stroke:0.12px #85868d;left:1037.80px;transform-origin:0 50%;transform:scaleX(1.2941);">/</div>
<div class="a" style="top:502px;font-size:8.9px;line-height:10px;color:#df637b;-webkit-text-stroke:0.2px #df637b;left:1041.40px;transform-origin:0 50%;transform:scaleX(1.0708);">72</div>
<svg class="a" style="left:1148.7px;top:500.00px" width="14.2" height="14.2" viewBox="0 0 20 20"><path d="M9 3H4.5A1.5 1.5 0 0 0 3 4.500V15.500A1.500 1.500 0 0 0 4.500 17H15.500A1.500 1.500 0 0 0 17 15.500V11" fill="none" stroke="#e6e6ea" stroke-width="1.45" stroke-linecap="round"/><path d="M12.500 2.500H17.500V7.500M17.200 2.800L9.800 10.200" fill="none" stroke="#e6e6ea" stroke-width="1.45" stroke-linecap="round" stroke-linejoin="round"/></svg>
<div class="a" style="top:503px;font-size:8.2px;line-height:9px;color:#c6c7cc;-webkit-text-stroke:0.12px #c6c7cc;left:1162.90px;transform-origin:0 50%;transform:scaleX(1.0054);">Share</div>
<svg class="a" style="left:353.00px;top:15.20px" width="9.4" height="9" viewBox="0 0 20 19"><path d="M3 13.500L12.800 3.700a2 2 0 0 1 2.800 0l.7.700a2 2 0 0 1 0 2.800L6.500 17H3z" fill="none" stroke="#8c8d93" stroke-width="1.700" stroke-linejoin="round"/><path d="M13 18h5" stroke="#8c8d93" stroke-width="1.700" stroke-linecap="round"/></svg>
<svg class="a" style="left:279.60px;top:36.10px" width="9.6" height="9.2" viewBox="0 0 9.600 9.200"><circle cx="4.200" cy="4.200" r="3.600" fill="none" stroke="#c4c5ca" stroke-width="1"/><path d="M6.900 6.900l2.100 2" stroke="#c4c5ca" stroke-width="1.100" stroke-linecap="round"/></svg>
<svg class="a" style="left:292.70px;top:36.10px" width="8.2" height="8.8" viewBox="0 0 8.200 8.800"><rect x="0.500" y="2.400" width="5.300" height="5.900" rx="1" fill="none" stroke="#85868c" stroke-width="0.900"/><path d="M2.600 0.500h4.100a1 1 0 0 1 1 1v5" fill="none" stroke="#85868c" stroke-width="0.900"/></svg>
<svg class="a" style="left:304.70px;top:36.20px" width="8.6" height="8.6" viewBox="0 0 8.600 8.600"><circle cx="4.300" cy="4.300" r="4.300" fill="#dedee2"/><path d="M2.600 2.700h3.600M2.400 4.300h3.600M2.600 5.900h3.600" stroke="#222" stroke-width="0.900"/></svg>
<svg class="a" style="left:952.00px;top:24.20px" width="11" height="10.8" viewBox="0 0 22 21.600"><path d="M3.500 5.500V17a2.500 2.500 0 0 0 2.500 2.500h11.500a2 2 0 0 0 2-2V8.500a2 2 0 0 0-2-2H5a1.500 1.500 0 0 1-1.500-1.500A2.500 2.500 0 0 1 6 2.500h10.500" fill="none" stroke="#f1f1f3" stroke-width="2" stroke-linecap="round" stroke-linejoin="round"/><path d="M13.500 13h2.500" stroke="#f1f1f3" stroke-width="2.200" stroke-linecap="round"/></svg>
<svg class="a" style="left:1052.20px;top:24.70px" width="11.7" height="10.6" viewBox="0 0 24 22"><path d="M12 19.800C5 14.800 2.300 11.500 2.300 7.800 2.300 4.800 4.600 2.600 7.400 2.600c1.900 0 3.600 1 4.600 2.600 1-1.600 2.700-2.600 4.600-2.600 2.800 0 5.100 2.200 5.100 5.200 0 3.700-2.700 7-9.700 12z" fill="none" stroke="#141518" stroke-width="2.100" stroke-linejoin="round"/></svg>
<svg class="a" style="left:1131.30px;top:22.40px" width="14.3" height="14.3" viewBox="0 0 20 20"><path d="M9 3H4.500A1.500 1.500 0 0 0 3 4.500V15.500A1.500 1.500 0 0 0 4.500 17H15.500A1.500 1.500 0 0 0 17 15.500V11" fill="none" stroke="#f1f1f3" stroke-width="1.500" stroke-linecap="round"/><path d="M12.500 2.500H17.500V7.500M17.200 2.800L9.800 10.200" fill="none" stroke="#f1f1f3" stroke-width="1.500" stroke-linecap="round" stroke-linejoin="round"/></svg>
<svg class="a" style="left:87.00px;top:73.70px" width="9.6" height="9.6" viewBox="0 0 20 20"><circle cx="10" cy="10" r="8.600" fill="none" stroke="#97989e" stroke-width="2"/><circle cx="10" cy="10" r="5.200" fill="none" stroke="#97989e" stroke-width="1.500"/><path d="M11.700 8.300c-.4-.7-1-.9-1.700-.9-1 0-1.700.5-1.700 1.300 0 1.900 3.500.8 3.500 2.700 0 .8-.8 1.300-1.800 1.300-.8 0-1.500-.3-1.800-1M10 6.500v7" fill="none" stroke="#97989e" stroke-width="1"/></svg>
<svg class="a" style="left:555.00px;top:397.80px" width="9" height="9" viewBox="0 0 20 20"><circle cx="10" cy="10" r="8.600" fill="none" stroke="#85868c" stroke-width="2"/><circle cx="10" cy="10" r="5.200" fill="none" stroke="#85868c" stroke-width="1.500"/><path d="M11.700 8.300c-.4-.7-1-.9-1.700-.9-1 0-1.700.5-1.700 1.300 0 1.900 3.500.8 3.500 2.700 0 .8-.8 1.300-1.800 1.300-.8 0-1.500-.3-1.800-1M10 6.500v7" fill="none" stroke="#85868c" stroke-width="1"/></svg>
<svg class="a" style="left:71.30px;top:200.60px" width="10" height="10.5" viewBox="0 0 20 21"><rect x="1.500" y="2.500" width="17" height="16.500" rx="3" fill="none" stroke="#d4d4d8" stroke-width="2"/><path d="M2 7.500h16" stroke="#d4d4d8" stroke-width="2"/><path d="M6 1v3M14 1v3" stroke="#d4d4d8" stroke-width="2"/><path d="M5.500 12h5" stroke="#d4d4d8" stroke-width="2"/></svg>
<svg class="a" style="left:548.20px;top:224.30px" width="8.6" height="8.6" viewBox="0 0 20 20"><circle cx="10" cy="10" r="8.600" fill="none" stroke="#85868c" stroke-width="1.600"/><path d="M7.600 7.800c.2-1.300 1.200-2 2.500-2 1.400 0 2.400.8 2.400 2 0 1.700-2.400 1.700-2.400 3.500" fill="none" stroke="#85868c" stroke-width="1.600" stroke-linecap="round"/><circle cx="10.100" cy="14.300" r="1" fill="#85868c"/></svg>
<svg class="a" style="left:472.80px;top:270.60px" width="11.2" height="9.8" viewBox="0 0 11.200 9.800"><circle cx="7.500" cy="3.900" r="2.850" fill="none" stroke="#f1f1f3" stroke-width="1.050"/><path d="M7.600 2.600v1.800" stroke="#f1f1f3" stroke-width="0.900"/><path d="M5.300 6.200C4.700 8.200 3.300 9 2 8.600 1.300 8.400 0.800 7.800 0.700 7l1.600 0.900" fill="none" stroke="#f1f1f3" stroke-width="1.100" stroke-linecap="round" stroke-linejoin="round"/></svg>
<svg class="a" style="left:697.80px;top:427.80px" width="8.6" height="8.2" viewBox="0 0 8.600 8.200"><path d="M1.900 0.300h4.800l1.700 2.300L4.300 8 0.200 2.600z" fill="#5aa9f0"/><path d="M1.900 0.300h4.800l1.700 2.300H0.200z" fill="#a8d4fb"/><path d="M2.900 2.600L4.300 8l1.400-5.400z" fill="#3d8fe0"/></svg>
<svg class="a" style="left:854.10px;top:398.60px" width="8.4" height="7.4" viewBox="0 0 8.400 7.400"><path d="M7.900 2.600H0.600l2.100-2M0.500 4.800h7.300l-2.100 2" fill="none" stroke="#85868c" stroke-width="0.850" stroke-linecap="round" stroke-linejoin="round"/></svg>
<svg class="a" style="left:966.50px;top:398.60px" width="8.4" height="7.4" viewBox="0 0 8.400 7.400"><path d="M7.900 2.600H0.600l2.100-2M0.500 4.800h7.300l-2.100 2" fill="none" stroke="#85868c" stroke-width="0.850" stroke-linecap="round" stroke-linejoin="round"/></svg>
<svg class="a" style="left:41.90px;top:424.00px" width="17.6" height="17.6" viewBox="0 0 17.600 17.600"><circle cx="8.800" cy="8.800" r="8.800" fill="#eb9b45"/><circle cx="8.800" cy="8.800" r="6.600" fill="#f2ad5c"/><circle cx="8.800" cy="8.800" r="6.600" fill="none" stroke="#f6c07c" stroke-width="0.600"/><rect x="8.100" y="5.200" width="1.300" height="6.500" rx="0.500" fill="#fbe9cf"/></svg>
<div class="a" style="left:52.20px;top:434.20px;width:7.400px;height:7.400px;border-radius:50%;background:#16171a"></div>
<svg class="a" style="left:52.90px;top:434.90px" width="6" height="6" viewBox="0 0 6 6"><circle cx="3" cy="3" r="3" fill="#3a8f4f"/><path d="M1.300 3.800L3.600 1.500a1.100 1.100 0 0 1 1.500 1.500L2.800 5.300a1.100 1.100 0 0 1-1.500-1.500z" fill="#eaf6ec"/><path d="M1.300 3.800l1.100-1.100 1.500 1.500-1.100 1.100a1.100 1.100 0 0 1-1.500-1.500z" fill="#7ed48f"/></svg>
<svg class="a" style="left:41.90px;top:461.00px" width="17.6" height="17.6" viewBox="0 0 17.600 17.600"><circle cx="8.800" cy="8.800" r="8.800" fill="#050506"/><text x="1.800" y="11.600" font-family="Liberation Sans" font-weight="700" font-size="7.400" fill="#ff6ea9" textLength="4.200" lengthAdjust="spacingAndGlyphs">$</text><text x="5.600" y="11.600" font-family="Liberation Sans" font-weight="700" font-size="7.400" fill="#fff" textLength="5.600" lengthAdjust="spacingAndGlyphs">M</text><text x="10.700" y="11.600" font-family="Liberation Sans" font-weight="700" font-size="7.400" fill="#ff8fb8" textLength="4.600" lengthAdjust="spacingAndGlyphs">T</text></svg>
<div class="a" style="left:52.20px;top:471.20px;width:7.400px;height:7.400px;border-radius:50%;background:#16171a"></div>
<svg class="a" style="left:52.90px;top:471.90px" width="6" height="6" viewBox="0 0 6 6"><circle cx="3" cy="3" r="3" fill="#2d3350"/><circle cx="3" cy="3" r="1.700" fill="none" stroke="#8088c8" stroke-width="0.700"/><path d="M2.200 3h1.600" stroke="#aab0e8" stroke-width="0.600"/></svg>
<svg class="a" style="left:41.90px;top:498.00px" width="17.6" height="17.6" viewBox="0 0 17.600 17.600"><circle cx="8.800" cy="8.800" r="8.800" fill="#131310"/><path d="M2.600 9.800C2.200 7 3.800 4.600 6.400 4.400c1.500-.1 2.300.5 3.600.5 1.600 0 3-.4 4.100.9 1.300 1.600 1 4.300-.8 5.900-1.900 1.600-4.600 2.100-7 1.500C4.200 12.700 2.900 11.600 2.600 9.800z" fill="none" stroke="#d9bd3a" stroke-width="0.950"/><circle cx="6.400" cy="8.300" r="0.650" fill="#d9bd3a"/><circle cx="10.200" cy="8.300" r="0.650" fill="#d9bd3a"/></svg>
<div class="a" style="left:52.20px;top:508.20px;width:7.400px;height:7.400px;border-radius:50%;background:#16171a"></div>
<svg class="a" style="left:52.90px;top:508.90px" width="6" height="6" viewBox="0 0 6 6"><circle cx="3" cy="3" r="3" fill="#3a8f4f"/><path d="M1.300 3.800L3.600 1.500a1.100 1.100 0 0 1 1.500 1.500L2.800 5.300a1.100 1.100 0 0 1-1.500-1.500z" fill="#eaf6ec"/><path d="M1.300 3.800l1.100-1.100 1.500 1.500-1.100 1.100a1.100 1.100 0 0 1-1.500-1.500z" fill="#7ed48f"/></svg>
</div></body></html>
